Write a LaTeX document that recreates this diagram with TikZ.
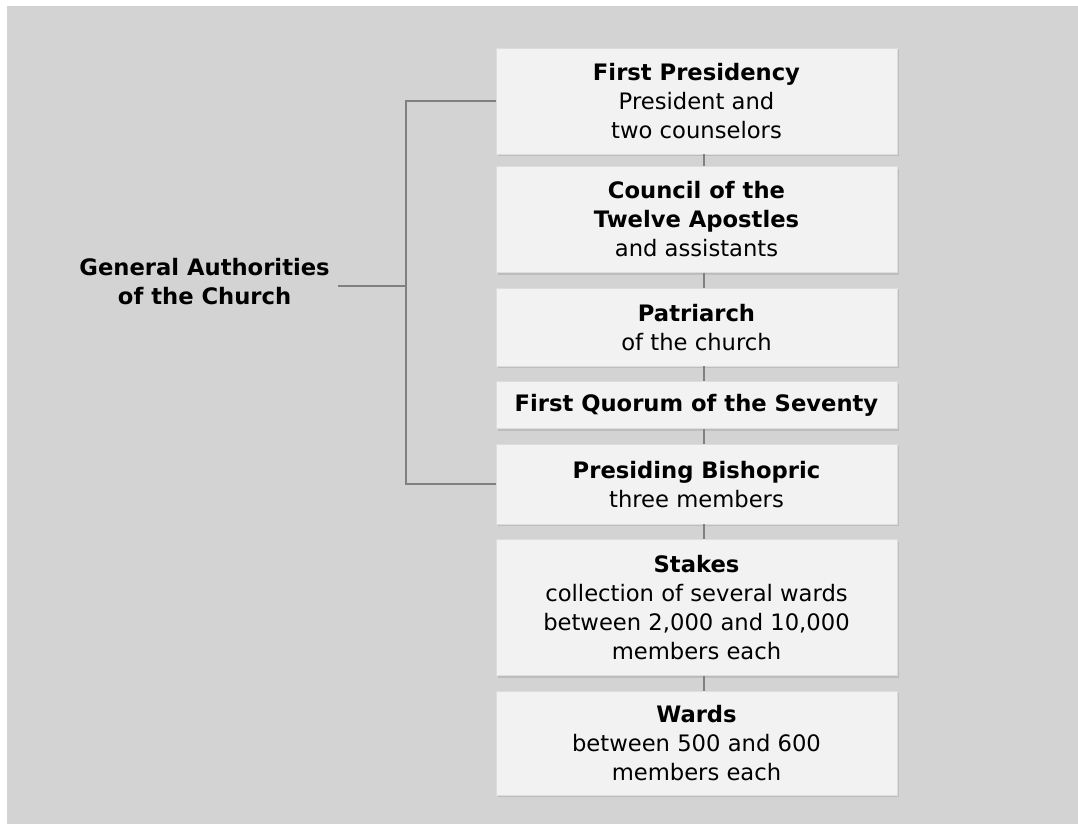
\documentclass[tikz,border=0pt]{standalone}
\usepackage{fontspec}
\setmainfont{DejaVu Sans}
\usepackage{xcolor}
\usepackage{tikz}
\usetikzlibrary{positioning,shadows}

\definecolor{bggray}{HTML}{D3D3D3}
\definecolor{boxfill}{HTML}{F2F2F2}
\definecolor{boxedge}{HTML}{DDDDDD}
\definecolor{shadowgray}{HTML}{BDBDBD}
\definecolor{linkgray}{HTML}{808080}

\begin{document}
\begin{tikzpicture}[x=0.75pt, y=-0.75pt, node distance=11.25pt]
    % Stili
    \tikzset{
        level/.style={rectangle, draw=boxedge, line width=0.4pt, fill=boxfill,
            minimum width=300.75pt, text centered, align=center, inner sep=0pt,
            font=\fontsize{17pt}{21.75pt}\selectfont,
            drop shadow={shadow xshift=1.5pt, shadow yshift=-1.5pt, fill=shadowgray, opacity=1}},
        group/.style={align=center, inner sep=6pt, font=\fontsize{17pt}{21.75pt}\selectfont\bfseries},
        link/.style={draw=linkgray, line width=1.5pt}
    }

    % Sfondo
    \useasboundingbox (0,0) rectangle (1078,824);
    \fill[bggray] (7,6) rectangle (1078,824);

    % Livelli
    \node (fp) [level, minimum height=79.5pt] at (696.5,101)
        {\textbf{First Presidency}\\President and\\two counselors};
    \node (twelve) [level, minimum height=79.5pt, below=9pt of fp]
        {\textbf{Council of the}\\\textbf{Twelve Apostles}\\and assistants};
    \node (patriarch) [level, minimum height=58.5pt, below=of twelve]
        {\textbf{Patriarch}\\of the church};
    \node (seventy) [level, minimum height=35.25pt, below=of patriarch]
        {\textbf{First Quorum of the Seventy}};
    \node (bishop) [level, minimum height=60pt, below=of seventy]
        {\textbf{Presiding Bishopric}\\three members};
    \node (stakes) [level, minimum height=102pt, below=of bishop]
        {\textbf{Stakes}\\collection of several wards\\between 2,000 and 10,000\\members each};
    \node (wards) [level, minimum height=78pt, below=of stakes]
        {\textbf{Wards}\\between 500 and 600\\members each};

    % Autorita generali
    \node (general) [group, anchor=east] at (338,282) {General Authorities\\of the Church};

    % Collegamenti
    \coordinate (spine) at (704,0);
    \coordinate (brace) at (406,0);
    \foreach \a/\b in {fp/twelve, twelve/patriarch, patriarch/seventy,
                       seventy/bishop, bishop/stakes, stakes/wards}
        \draw [link] (\a.south -| spine) -- (\b.north -| spine);
    \draw [link] (fp.west) -- (fp.west -| brace) -- (bishop.west -| brace) -- (bishop.west);
    \draw [link] ([yshift=-3pt]general.east) -- ([yshift=-3pt]general.east -| brace);

\end{tikzpicture}
\end{document}
